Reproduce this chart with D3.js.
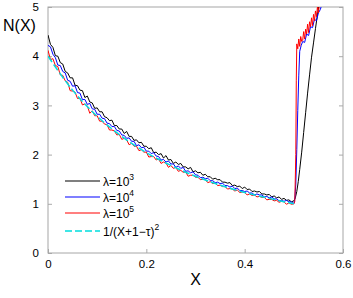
<!DOCTYPE html>
<html>
<head>
<meta charset="utf-8">
<script src="https://cdnjs.cloudflare.com/ajax/libs/d3/7.8.5/d3.min.js"></script>
<style>
  body { margin: 0; background: #fff; }
  svg text { font-family: "Liberation Sans", Arial, sans-serif; fill: #000; }
</style>
</head>
<body>
<svg width="353" height="298"></svg>
<script>
// sampling step of the simulated curves for 0 <= X <= 0.5
var step = 0.005;

var black_main = [4.43,4.24,4.18,4.01,4.00,3.87,3.84,3.69,3.66,3.56,
    3.56,3.41,3.40,3.31,3.30,3.16,3.19,3.07,3.05,2.94,
    2.95,2.87,2.87,2.77,2.75,2.69,2.70,2.59,2.59,2.52,
    2.52,2.43,2.47,2.37,2.37,2.29,2.30,2.24,2.25,2.17,
    2.17,2.12,2.14,2.04,2.05,2.00,2.02,1.93,1.98,1.89,
    1.90,1.82,1.85,1.80,1.82,1.75,1.75,1.71,1.74,1.65,
    1.67,1.63,1.64,1.58,1.60,1.55,1.55,1.50,1.52,1.49,
    1.49,1.44,1.44,1.42,1.43,1.37,1.38,1.35,1.36,1.31,
    1.34,1.29,1.30,1.25,1.26,1.24,1.25,1.20,1.20,1.18,
    1.19,1.14,1.16,1.12,1.14,1.09,1.11,1.07,1.08,1.04,1.06];

var blue_main = [4.22,4.19,4.04,3.97,3.82,3.81,3.69,3.66,3.51,3.49,
    3.39,3.40,3.26,3.25,3.12,3.12,3.02,3.04,2.93,2.92,
    2.82,2.82,2.74,2.73,2.64,2.63,2.57,2.57,2.49,2.48,
    2.40,2.39,2.33,2.34,2.27,2.27,2.18,2.20,2.14,2.15,
    2.07,2.07,2.02,2.04,1.97,1.96,1.89,1.90,1.85,1.87,
    1.81,1.81,1.74,1.77,1.72,1.74,1.66,1.67,1.63,1.65,
    1.59,1.58,1.53,1.54,1.51,1.52,1.47,1.47,1.43,1.44,
    1.41,1.42,1.37,1.37,1.34,1.36,1.31,1.32,1.27,1.27,
    1.25,1.26,1.22,1.22,1.18,1.20,1.18,1.18,1.14,1.15,
    1.12,1.14,1.10,1.10,1.06,1.07,1.05,1.07,1.04,1.04,1.00];

var red_main = [4.12,3.93,3.95,3.81,3.79,3.62,3.61,3.50,3.47,3.30,
    3.29,3.27,3.14,3.15,3.01,3.03,2.99,2.84,2.89,2.79,
    2.79,2.68,2.68,2.62,2.61,2.50,2.50,2.48,2.40,2.41,
    2.31,2.33,2.30,2.20,2.23,2.17,2.17,2.08,2.10,2.05,
    2.05,1.95,1.96,1.96,1.89,1.91,1.82,1.85,1.83,1.74,
    1.78,1.72,1.74,1.66,1.68,1.64,1.65,1.56,1.58,1.58,
    1.54,1.54,1.49,1.50,1.49,1.43,1.45,1.41,1.42,1.37,
    1.38,1.35,1.35,1.30,1.31,1.30,1.26,1.28,1.23,1.24,
    1.23,1.18,1.20,1.17,1.18,1.14,1.15,1.13,1.13,1.08,
    1.09,1.09,1.06,1.07,1.03,1.05,1.04,0.99,1.02,0.99,1.00];

// jump after X = 0.5
var black_jumpX = [0.503,0.506,0.509,0.512,0.516,0.520,0.524,0.528,0.532,0.536,0.540,0.544,0.548,0.552];
var black_jumpY = [1.12,1.25,1.45,1.70,2.05,2.45,2.85,3.25,3.62,3.98,4.27,4.56,4.84,5.10];

var blue_jumpX = [0.502,0.504,0.506,0.508,0.510,0.512,0.515,0.518,0.522,0.526,0.530,0.534,0.538,0.542,0.546,0.550,0.554,0.558];
var blue_jumpY = [1.10,1.40,2.10,2.90,3.60,4.10,4.22,4.30,4.28,4.45,4.42,4.60,4.58,4.75,4.72,4.88,4.95,5.10];

var red_jumpX = [0.502,0.504,0.505,0.506,0.508,0.510,0.512,0.514,0.516,0.518,0.520,0.522,0.524,0.526,
    0.528,0.530,0.532,0.534,0.536,0.538,0.540,0.542,0.544,0.546,0.548,0.550,0.552,0.554];
var red_jumpY = [1.05,2.00,3.50,4.25,4.15,4.35,4.20,4.40,4.30,4.32,4.50,4.35,4.55,4.45,
    4.65,4.48,4.70,4.60,4.78,4.62,4.85,4.72,4.92,4.80,5.00,4.88,5.05,5.10];

// dashed reference curve 1/(X+1-tau)^2
var fitX = [0,0.05,0.1,0.15,0.2,0.25,0.3,0.35,0.4,0.45,0.5];
var fitY = [4.00,3.31,2.78,2.37,2.04,1.78,1.56,1.38,1.23,1.11,1.00];

var xTicks = [0, 0.2, 0.4, 0.6];
var xTickLabels = ["0", "0.2", "0.4", "0.6"];
var yTicks = [0, 1, 2, 3, 4, 5];

var legendLabels = [
    {base: "\u03bb=10", sup: "3", color: "#000000", dash: null},
    {base: "\u03bb=10", sup: "4", color: "#0000ff", dash: null},
    {base: "\u03bb=10", sup: "5", color: "#ff0000", dash: null},
    {base: "1/(X+1\u2212\u03c4)", sup: "2", color: "#00dede", dash: "7,3"}
];

var mLeft = 48, mRight = 343, mTop = 7, mBottom = 253;

var svg = d3.select("svg");

var x = d3.scaleLinear().domain([0, 0.6]).range([mLeft, mRight]);
var y = d3.scaleLinear().domain([0, 5]).range([mBottom, mTop]);

function build(main, jx, jy) {
    var pts = main.map(function(v, i) { return {x: i * step, y: v}; });
    jx.forEach(function(d, i) { pts.push({x: d, y: jy[i]}); });
    return pts;
}

svg.append("clipPath").attr("id", "plotclip")
    .append("rect")
    .attr("x", mLeft).attr("y", mTop)
    .attr("width", mRight - mLeft).attr("height", mBottom - mTop);

// axes with inward ticks
var xAxis = svg.append("g")
    .attr("transform", "translate(0," + mBottom + ")")
    .call(d3.axisBottom(x).tickValues(xTicks)
        .tickFormat(function(d, i) { return xTickLabels[i]; })
        .tickSizeInner(-4).tickSizeOuter(0).tickPadding(7));

var yAxis = svg.append("g")
    .attr("transform", "translate(" + mLeft + ",0)")
    .call(d3.axisLeft(y).tickValues(yTicks).tickFormat(d3.format("d"))
        .tickSizeInner(-4).tickSizeOuter(0).tickPadding(9));

var yAxisR = svg.append("g")
    .attr("transform", "translate(" + mRight + ",0)")
    .call(d3.axisRight(y).tickValues(yTicks).tickFormat("")
        .tickSizeInner(-4).tickSizeOuter(0));

[xAxis, yAxis, yAxisR].forEach(function(g) {
    g.select(".domain").remove();
    g.selectAll(".tick line").attr("stroke", "#aaa");
    g.selectAll(".tick text").style("font-size", "11.5px")
        .style("font-family", "'Liberation Sans', Arial, sans-serif");
});

svg.append("rect")
    .attr("x", mLeft).attr("y", mTop)
    .attr("width", mRight - mLeft).attr("height", mBottom - mTop)
    .attr("fill", "none").attr("stroke", "#a6a6a6").attr("stroke-width", 1);

var line = d3.line()
    .x(function(d) { return x(d.x); })
    .y(function(d) { return y(d.y); });

var plot = svg.append("g").attr("clip-path", "url(#plotclip)");

var series = [
    {pts: build(black_main, black_jumpX, black_jumpY), color: "#000000"},
    {pts: build(blue_main, blue_jumpX, blue_jumpY), color: "#0000ff"},
    {pts: build(red_main, red_jumpX, red_jumpY), color: "#ff0000"}
];

series.forEach(function(s) {
    plot.append("path")
        .datum(s.pts)
        .attr("d", line)
        .style("fill", "none")
        .style("stroke", s.color)
        .style("stroke-width", 1);
});

var fit = fitX.map(function(d, i) { return {x: d, y: fitY[i]}; });
plot.append("path")
    .datum(fit)
    .attr("d", line.curve(d3.curveMonotoneX))
    .style("fill", "none")
    .style("stroke", "#00dede")
    .style("stroke-width", 1.5)
    .style("stroke-dasharray", "7,3");

// axis titles
svg.append("text")
    .attr("x", (mLeft + mRight) / 2).attr("y", 285)
    .attr("text-anchor", "middle")
    .style("font-size", "16px")
    .text("X");

svg.append("text")
    .attr("x", 3).attr("y", 31)
    .style("font-size", "16px")
    .text("N(X)");

// legend
var rowY = [186, 202, 218, 236];
var legend = svg.append("g");
legendLabels.forEach(function(d, i) {
    var ln = legend.append("line")
        .attr("x1", 65).attr("x2", 100)
        .attr("y1", rowY[i] - 5).attr("y2", rowY[i] - 5)
        .style("stroke", d.color)
        .style("stroke-width", d.dash ? 1.5 : 1.2);
    if (d.dash) ln.style("stroke-dasharray", d.dash);
    var t = legend.append("text")
        .attr("x", 103).attr("y", rowY[i])
        .style("font-size", "12px");
    t.append("tspan").text(d.base);
    t.append("tspan").attr("dy", -6).style("font-size", "8.5px").text(d.sup);
});
</script>
</body>
</html>
